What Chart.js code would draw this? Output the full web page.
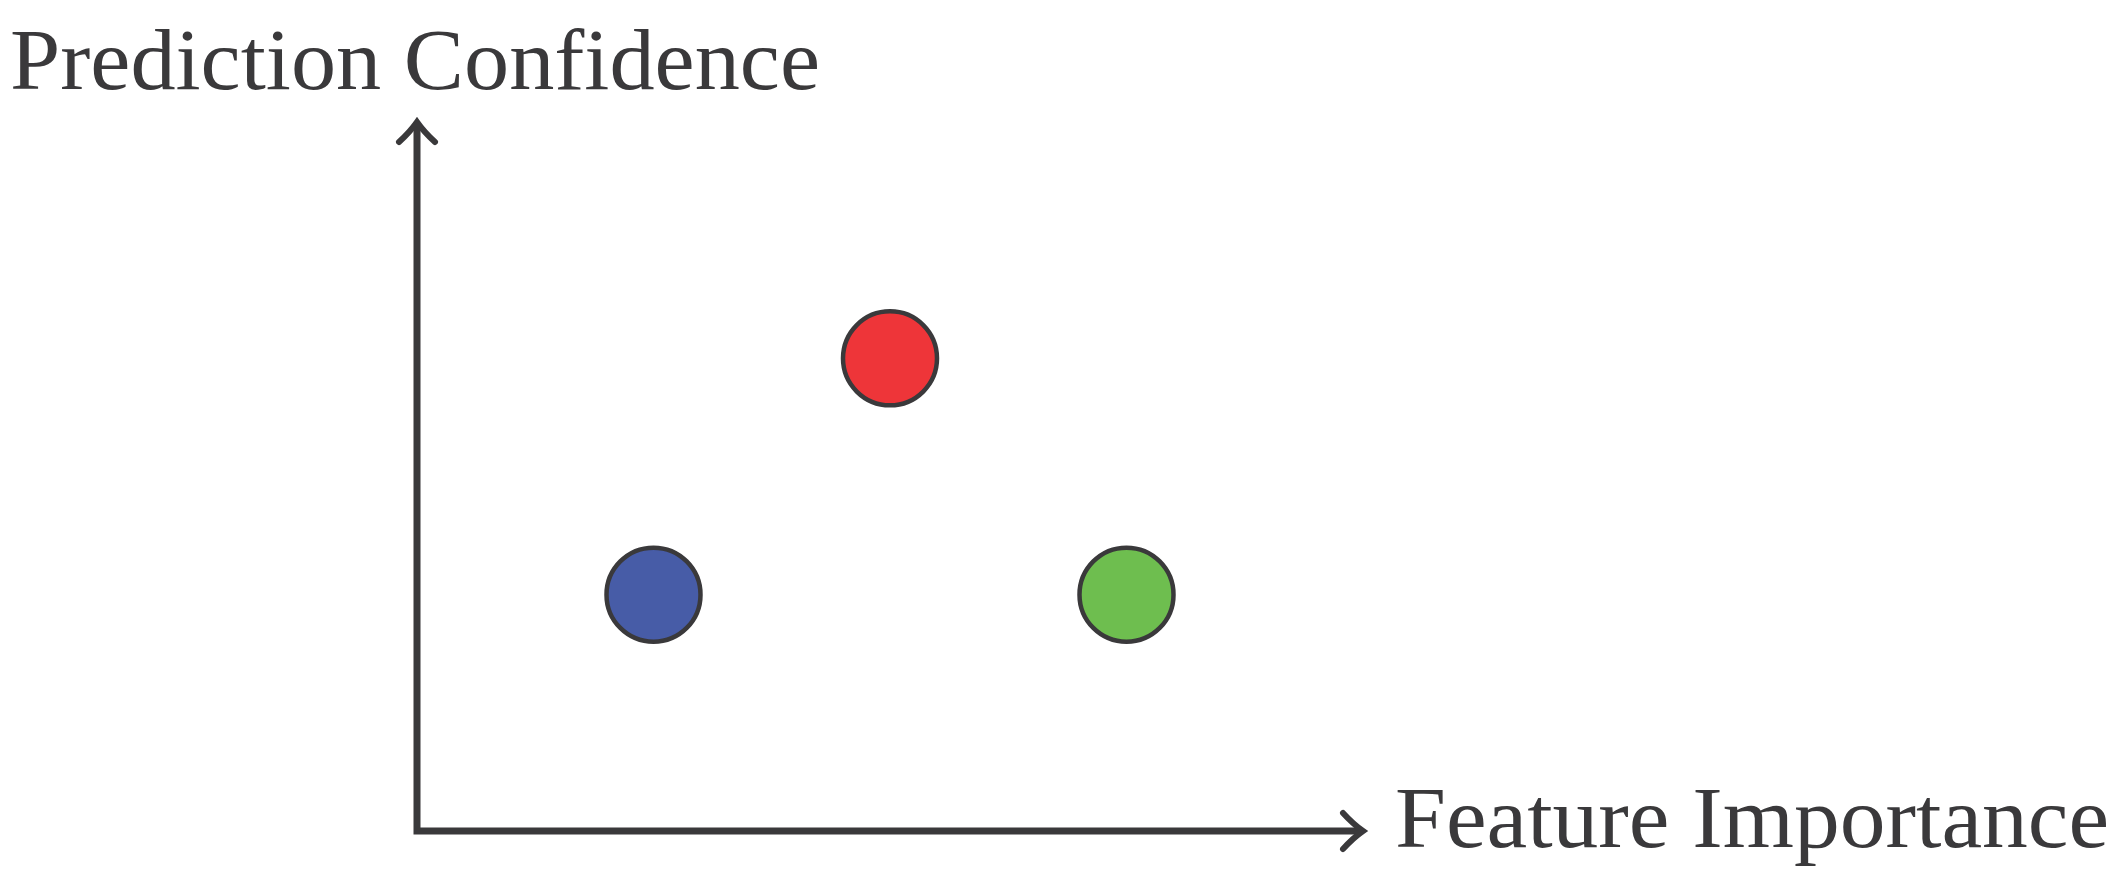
<!DOCTYPE html>
<html>
<head>
<meta charset="utf-8">
<title>Prediction Confidence vs Feature Importance</title>
<script src="https://cdn.jsdelivr.net/npm/chart.js@4.4.1/dist/chart.umd.min.js"></script>
<style>
  html, body { margin: 0; padding: 0; background: #fff; }
  #wrap { width: 2125px; height: 886px; }
</style>
</head>
<body>
<div id="wrap"><canvas id="chart" width="2125" height="886"></canvas></div>
<script>
// data (axes have no ticks, so units are arbitrary)
const pointNames = ['Blue', 'Red', 'Green'];
const featureImportance = [1, 2, 3];
const predictionConfidence = [1, 2, 1];
const xRange = [0, 4];
const yRange = [0, 3];
const xTitle = 'Feature Importance';
const yTitle = 'Prediction Confidence';

const pointColors = ['#475ca7', '#ee3539', '#6ebe4f'];
const inkColor = '#3a393b';

// draws the two arrowed axes + the two labels
const arrowAxes = {
    id: 'arrowAxes',
    beforeDatasetsDraw(chart) {
        const ctx = chart.ctx;
        const xs = chart.scales.x, ys = chart.scales.y;
        const x0 = xs.getPixelForValue(xRange[0]);
        const x1 = xs.getPixelForValue(xRange[1]);
        const y0 = ys.getPixelForValue(yRange[0]);
        const y1 = ys.getPixelForValue(yRange[1]);

        ctx.save();
        ctx.strokeStyle = inkColor;
        ctx.lineWidth = 7;
        ctx.lineCap = 'butt';
        ctx.beginPath();
        ctx.moveTo(x0, y0 + 3.5);
        ctx.lineTo(x0, y1 + 4);
        ctx.moveTo(x0 - 3.5, y0);
        ctx.lineTo(x1 - 4, y0);
        ctx.stroke();

        // curved barbs, latex style
        ctx.lineWidth = 6;
        ctx.lineCap = 'round';
        ctx.beginPath();
        ctx.moveTo(x1 - 20, y0 - 18);
        ctx.quadraticCurveTo(x1 - 10, y0 - 7, x1, y0);
        ctx.quadraticCurveTo(x1 - 10, y0 + 7, x1 - 20, y0 + 18);
        ctx.moveTo(x0 - 18, y1 + 20);
        ctx.quadraticCurveTo(x0 - 7, y1 + 10, x0, y1);
        ctx.quadraticCurveTo(x0 + 7, y1 + 10, x0 + 18, y1 + 20);
        ctx.stroke();

        ctx.fillStyle = inkColor;
        ctx.textBaseline = 'alphabetic';
        drawFitted(ctx, yTitle, 10, y1 - 33, 810);
        drawFitted(ctx, xTitle, x1 + 32, y0 + 16, 714);
        ctx.restore();
    }
};

function drawFitted(ctx, text, x, y, width) {
    ctx.save();
    ctx.font = '86px "Liberation Serif", "DejaVu Serif", serif';
    const w = ctx.measureText(text).width;
    ctx.translate(x, y);
    ctx.scale(width / w, 1);
    ctx.fillText(text, 0, 0);
    ctx.restore();
}

const points = featureImportance.map((v, i) => ({ x: v, y: predictionConfidence[i] }));

new Chart(document.getElementById('chart'), {
    type: 'scatter',
    data: {
        labels: pointNames,
        datasets: [{
            data: points,
            backgroundColor: pointColors,
            borderColor: inkColor,
            borderWidth: 4.5,
            pointRadius: 47,
            pointHoverRadius: 47,
            clip: false
        }]
    },
    options: {
        responsive: false,
        animation: false,
        layout: { padding: { left: 417, right: 762, top: 122, bottom: 55 } },
        plugins: { legend: { display: false }, tooltip: { enabled: false } },
        scales: {
            x: { type: 'linear', min: xRange[0], max: xRange[1], display: false },
            y: { type: 'linear', min: yRange[0], max: yRange[1], display: false }
        }
    },
    plugins: [arrowAxes]
});
</script>
</body>
</html>
